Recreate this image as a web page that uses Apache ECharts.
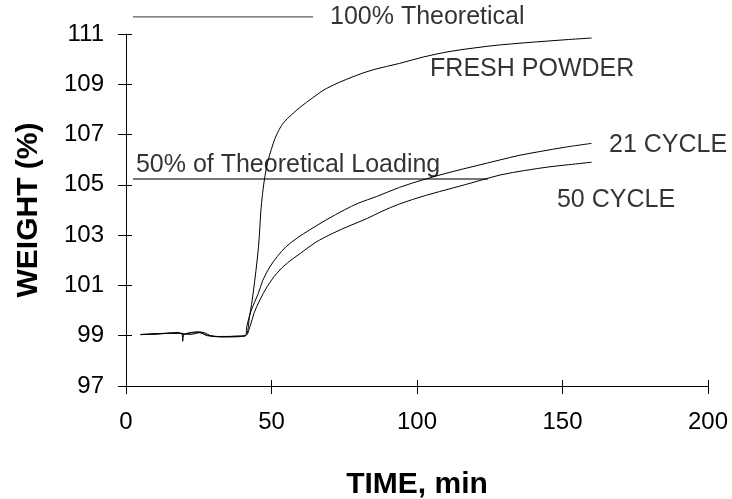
<!DOCTYPE html>
<html><head><meta charset="utf-8">
<script src="https://cdn.jsdelivr.net/npm/echarts@6/dist/echarts.min.js"></script>
<style>html,body{margin:0;padding:0;background:#fff}#c{width:732px;height:499px}</style>
</head><body><div id="c"></div>
<script>
var xTicks = [0, 50, 100, 150, 200];
var yTicks = [97, 99, 101, 103, 105, 107, 109, 111];

var freshPowder = [[5,99.05],[10,99.08],[14,99.1],[18,99.13],[19.5,99.05],[22,99.12],[25,99.16],[28,99.0],[33,98.97],[38,98.98],[41,99.0],[42.5,99.8],[43.7,100.7],[45.5,102.5],[46.6,104.3],[48.3,105.7],[50.6,106.65],[52,107.05],[54,107.45],[57,107.8],[60,108.1],[64,108.45],[69,108.84],[78,109.3],[85,109.58],[94,109.83],[102,110.08],[111,110.3],[120,110.45],[128,110.56],[137,110.65],[145,110.72],[152,110.78],[160,110.84]];
var cycle21 = [[5,99.05],[10,99.06],[15,99.1],[19.3,99.1],[19.5,98.78],[20,99.05],[25,99.12],[28,99.02],[33,98.96],[38,98.98],[41,99.0],[41.5,99.36],[43,100.0],[45.5,100.69],[47,101.2],[49.5,101.75],[52,102.15],[55,102.54],[59,102.9],[63,103.2],[69,103.62],[75,104.0],[80,104.28],[86,104.53],[94,104.9],[102,105.2],[111,105.49],[120,105.75],[128.5,105.99],[135,106.17],[142,106.32],[151,106.5],[160,106.65]];
var cycle50 = [[5,99.04],[12,99.08],[18,99.1],[22,99.05],[26,99.14],[30,98.97],[35,98.95],[41,99.0],[42.6,99.36],[44,99.9],[46,100.42],[48.5,100.95],[51.8,101.48],[55.5,101.9],[60,102.28],[65,102.7],[71,103.07],[77,103.38],[83,103.67],[88,103.95],[94,104.24],[103,104.58],[112.5,104.88],[120,105.12],[128.5,105.39],[137,105.57],[145.7,105.72],[152,105.8],[160,105.9]];
var theoretical100 = [[2.4,111.68],[64.3,111.68]];
var theoretical50 = [[2.4,105.23],[124.4,105.23]];
var annotations = [
  {text:'100% Theoretical', x:70.1, y:111.66},
  {text:'FRESH POWDER', x:104.5, y:109.6},
  {text:'21 CYCLE', x:166, y:106.6},
  {text:'50 CYCLE', x:148.1, y:104.4},
  {text:'50% of Theoretical Loading', x:3.4, y:105.8}
];

var FONT = '"Liberation Sans", Arial, sans-serif';
var chart = echarts.init(document.getElementById('c'), null, {renderer:'canvas'});
function lineSeries(data, color, width, smooth){
  return {type:'line', data:data, showSymbol:false, symbol:'none', clip:false, animation:false,
    smooth:smooth || false,
    lineStyle:{color:color, width:width}, silent:true};
}
var axisCommon = {type:'value', splitLine:{show:false}, animation:false};
chart.setOption({
  animation:false,
  grid:{left:126, right:24, top:34, bottom:113, containLabel:false, outerBoundsMode:'none'},
  xAxis:[
    Object.assign({}, axisCommon, {min:0, max:200, interval:50, position:'bottom',
      axisLine:{show:true, lineStyle:{color:'#000', width:1}},
      axisTick:{show:true, inside:false, length:8, lineStyle:{color:'#000'}},
      axisLabel:{color:'#000', fontSize:24, fontFamily:FONT, margin:24,
        formatter:function(v){return xTicks.indexOf(v)>=0 ? String(v) : '';}},
      name:'TIME, min', nameLocation:'middle', nameGap:84,
      nameTextStyle:{color:'#000', fontSize:30, fontWeight:'bold', fontFamily:FONT}}),
    Object.assign({}, axisCommon, {min:0, max:200, interval:50, position:'bottom',
      axisLine:{show:false}, axisTick:{show:true, inside:true, length:6, lineStyle:{color:'#000'}},
      axisLabel:{show:false}})
  ],
  yAxis:[
    Object.assign({}, axisCommon, {min:97, max:111, interval:2, position:'left',
      axisLine:{show:true, lineStyle:{color:'#000', width:1}},
      axisTick:{show:true, inside:false, length:8, lineStyle:{color:'#000'}},
      axisLabel:{color:'#000', fontSize:24, fontFamily:FONT, margin:22,
        formatter:function(v){return yTicks.indexOf(v)>=0 ? String(v) : '';}},
      name:'WEIGHT (%)', nameLocation:'middle', nameGap:82, nameRotate:90,
      nameTextStyle:{color:'#000', fontSize:30, fontWeight:'bold', fontFamily:FONT}}),
    Object.assign({}, axisCommon, {min:97, max:111, interval:2, position:'left', offset:0,
      axisLine:{show:false}, axisTick:{show:true, inside:true, length:6, lineStyle:{color:'#000'}},
      axisLabel:{show:false}})
  ],
  series:[
    lineSeries(theoretical100, '#333', 1),
    lineSeries(theoretical50, '#777', 2),
    lineSeries(freshPowder, '#000', 1, 0.35),
    lineSeries(cycle21, '#000', 1, 0.35),
    lineSeries(cycle50, '#000', 1, 0.35),
    {type:'scatter', symbolSize:0, clip:false, silent:true, animation:false,
      data:annotations.map(function(a){return {value:[a.x,a.y], name:a.text};}),
      label:{show:true, position:'right', distance:0, formatter:function(p){return p.name;},
        color:'#000', fontSize:25, fontFamily:FONT}}
  ]
});
</script></body></html>
